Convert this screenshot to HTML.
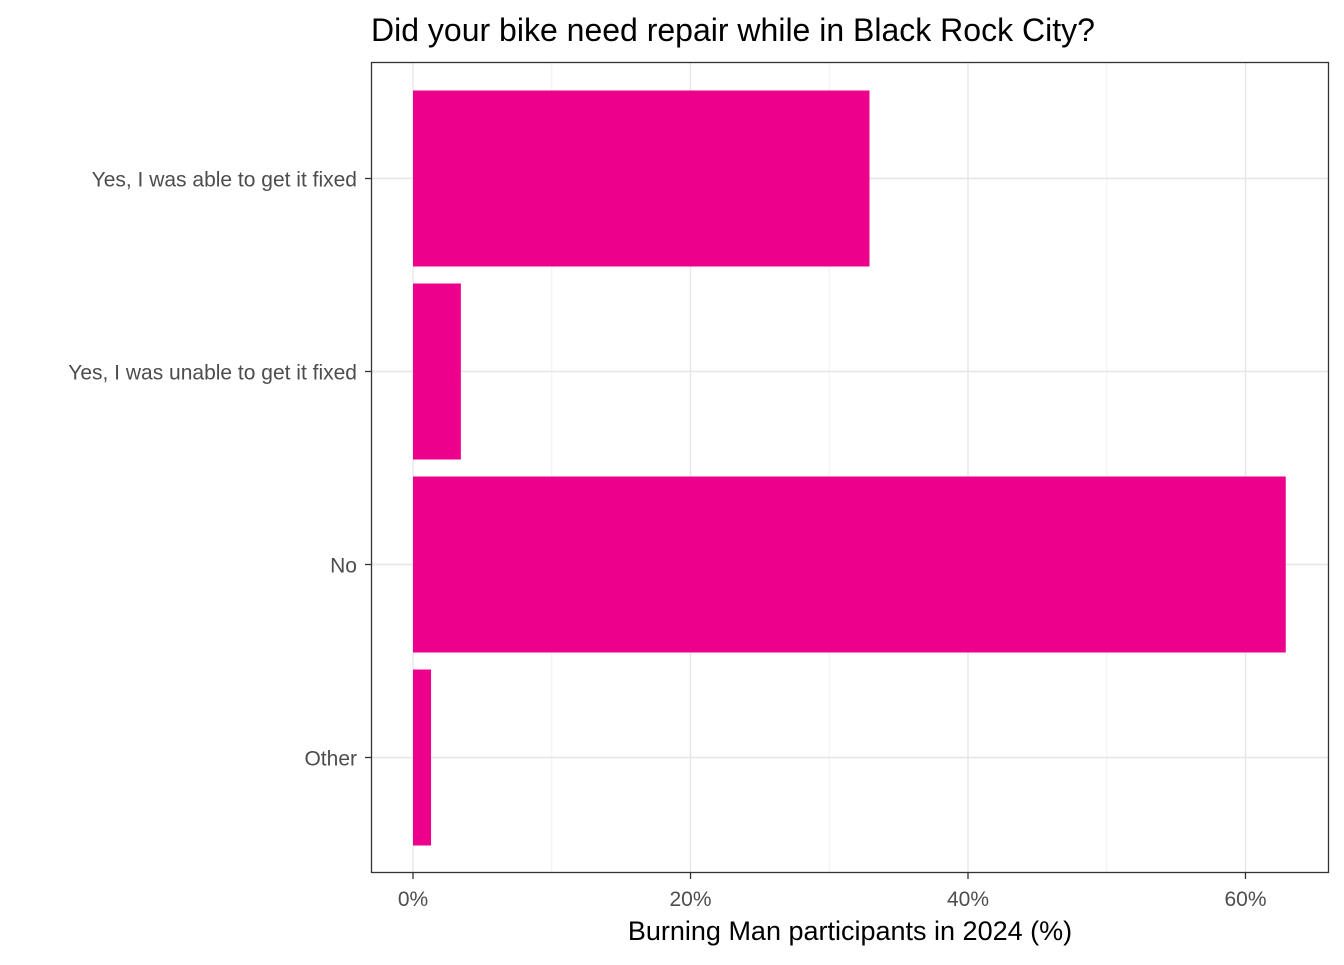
<!DOCTYPE html>
<html><head><meta charset="utf-8"><style>
body{margin:0;background:#fff;}
svg text{font-family:"Liberation Sans",Arial,sans-serif;}
</style></head><body>
<svg id="chart" width="1344" height="960" xmlns="http://www.w3.org/2000/svg">
<rect width="1344" height="960" fill="#fff"/>
<text x="371" y="41" font-size="32" fill="#000">Did your bike need repair while in Black Rock City?</text>
<g id="grid"></g>
<g id="bars"></g>
<rect x="371.5" y="62.5" width="957" height="810" fill="none" stroke="#333" stroke-width="1.3"/>
<g id="axes"></g>
<text x="850" y="940" font-size="27" text-anchor="middle" fill="#000">Burning Man participants in 2024 (%)</text>
</svg>
<script>
const categories = ["Yes, I was able to get it fixed","Yes, I was unable to get it fixed","No","Other"];
const values = [32.9, 3.45, 62.9, 1.3];
const xTicks = [0, 20, 40, 60];
const xTickLabels = ["0%","20%","40%","60%"];
const xMinor = [10, 30, 50];

const NS="http://www.w3.org/2000/svg";
const px0=371, px1=1329, py0=62, py1=873;
const x = v => 413 + v*13.875;
const band = 193, barH = 176;
const y = i => 178.5 + i*band;
function mk(tag, attrs, parent){const e=document.createElementNS(NS,tag);for(const k in attrs)e.setAttribute(k,attrs[k]);parent.appendChild(e);return e;}
const grid=document.getElementById('grid'), bars=document.getElementById('bars'), axes=document.getElementById('axes');
xMinor.forEach(v=>{const l=mk('line',{x1:x(v),x2:x(v),y1:py0,y2:py1,stroke:'#f0f0f0','stroke-width':1},grid);

});
xTicks.forEach((v,i)=>{const l=mk('line',{x1:x(v),x2:x(v),y1:py0,y2:py1,stroke:'#e6e6e6','stroke-width':1.4},grid);


const t=mk('line',{x1:x(v),x2:x(v),y1:py1,y2:py1+6,stroke:'#333','stroke-width':1.3},axes);


const tx=mk('text',{x:x(v),y:906,'font-size':21,'text-anchor':'middle',fill:'#4d4d4d'},axes);tx.textContent=xTickLabels[i];

});
categories.forEach((c,i)=>{const l=mk('line',{x1:px0,x2:px1,y1:y(i),y2:y(i),stroke:'#e6e6e6','stroke-width':1.4},grid);


const b=mk('rect',{x:x(0),y:y(i)-barH/2,width:x(values[i])-x(0),height:barH,fill:'#ec008c'},bars);


const t=mk('line',{x1:px0-6,x2:px0,y1:y(i),y2:y(i),stroke:'#333','stroke-width':1.3},axes);


const tx=mk('text',{x:357,y:y(i)+8,'font-size':21,'text-anchor':'end',fill:'#4d4d4d'},axes);tx.textContent=c;

});
</script>
</body></html>
